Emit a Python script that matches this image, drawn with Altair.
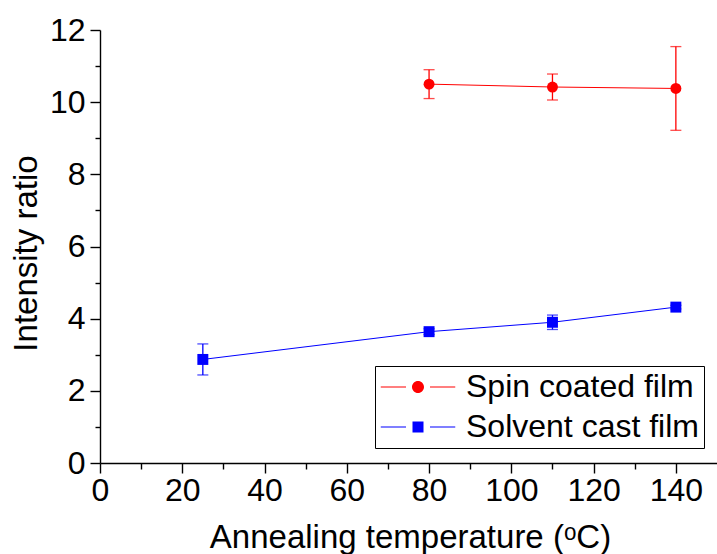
import altair as alt
import pandas as pd

# Intensity ratio vs annealing temperature, two film preparations
spin_temp = [80, 110, 140]
spin_ratio = [10.50, 10.42, 10.38]
spin_err = [0.40, 0.36, 1.16]

cast_temp = [25, 80, 110, 140]
cast_ratio = [2.87, 3.64, 3.90, 4.32]
cast_err = [0.43, 0.08, 0.20, 0.05]

series_names = ["Spin coated film", "Solvent cast film"]
series_colors = ["#ff0000", "#0000ff"]
series_shapes = ["circle", "square"]

x_major = [0, 20, 40, 60, 80, 100, 120, 140]
x_minor = [10, 30, 50, 70, 90, 110, 130]
y_major = [0, 2, 4, 6, 8, 10, 12]
y_minor = [1, 3, 5, 7, 9, 11]

rows = []
for name, temps, vals, errs in [
    (series_names[0], spin_temp, spin_ratio, spin_err),
    (series_names[1], cast_temp, cast_ratio, cast_err),
]:
    for t, v, e in zip(temps, vals, errs):
        rows.append({"series": name, "temp": t, "ratio": v, "lo": v - e, "hi": v + e})
df = pd.DataFrame(rows)

FONT = "Liberation Sans"

x_scale = alt.Scale(domain=[0, 150], nice=False, zero=False)
y_scale = alt.Scale(domain=[0, 12], nice=False, zero=False)
color_scale = alt.Scale(domain=series_names, range=series_colors)

common_axis = dict(
    grid=False, domainColor="black", tickColor="black", domainWidth=1.4,
    tickWidth=1.4, labelFont=FONT, labelFontSize=32, labelColor="black",
    titleFont=FONT, titleFontWeight="normal",
    titleColor="black", labelFlush=False, labelOverlap=False,
)

x_axis_major = alt.Axis(
    orient="bottom", values=x_major, tickSize=10, labelPadding=2,
    title="Annealing temperature (ᵒC)", titleFontSize=33, titleX=310, titleY=84,
    titleBaseline="alphabetic", titleAlign="center", **common_axis,
)
y_axis_major = alt.Axis(
    orient="left", values=y_major, tickSize=10, labelPadding=5,
    title="Intensity ratio", titleFontSize=33, titleX=-64, titleY=223, titleAngle=-90,
    titleBaseline="alphabetic", titleAlign="center", **common_axis,
)
x_axis_minor = alt.Axis(
    orient="bottom", values=x_minor, tickSize=6, labels=False, domain=False,
    title=None, grid=False, tickColor="black", tickWidth=1.4,
)
y_axis_minor = alt.Axis(
    orient="left", values=y_minor, tickSize=5, labels=False, domain=False,
    title=None, grid=False, tickColor="black", tickWidth=1.4,
)

# legend keys: thin line pieces on both sides of the marker (filled shapes)
circle_path = ("M-7.45,-0.1H-2.4V0.1H-7.45Z M2.4,-0.1H7.45V0.1H2.4Z "
               "M1.2,0A1.2,1.2,0,1,1,-1.2,0A1.2,1.2,0,1,1,1.2,0Z")
square_path = ("M-7.45,-0.1H-2.4V0.1H-7.45Z M2.4,-0.1H7.45V0.1H2.4Z "
               "M-1.1,-1.1H1.1V1.1H-1.1Z")
key_fill = "datum.value === 'Spin coated film' ? '#ff0000' : '#0000ff'"

legend = alt.Legend(
    orient="none", legendX=275, legendY=336, title=None, direction="vertical",
    labelFont=FONT, labelFontSize=32, labelColor="black", labelLimit=400,
    symbolSize=100, symbolOffset=22, labelOffset=32, symbolStrokeWidth=0,
    symbolOpacity=1, strokeColor="black", fillColor="white", padding=5,
    rowPadding=8,
)

base = alt.Chart(df)

lines = base.mark_line(strokeWidth=1).encode(
    x=alt.X("temp:Q", scale=x_scale, axis=x_axis_major),
    y=alt.Y("ratio:Q", scale=y_scale, axis=y_axis_major),
    color=alt.Color("series:N", scale=color_scale, legend=None),
)

bars = base.mark_rule(strokeWidth=1.3).encode(
    x=alt.X("temp:Q", scale=x_scale, axis=x_axis_minor),
    y=alt.Y("lo:Q", scale=y_scale, axis=y_axis_minor),
    y2="hi:Q",
    color=alt.Color("series:N", scale=color_scale, legend=None),
)

cap_lo = base.mark_tick(orient="horizontal", size=11, thickness=1.3).encode(
    x=alt.X("temp:Q", scale=x_scale, axis=None),
    y=alt.Y("lo:Q", scale=y_scale, axis=None),
    color=alt.Color("series:N", scale=color_scale, legend=None),
)

cap_hi = base.mark_tick(orient="horizontal", size=11, thickness=1.3).encode(
    x=alt.X("temp:Q", scale=x_scale, axis=None),
    y=alt.Y("hi:Q", scale=y_scale, axis=None),
    color=alt.Color("series:N", scale=color_scale, legend=None),
)

points = base.mark_point(filled=True, size=120, opacity=1).encode(
    x=alt.X("temp:Q", scale=x_scale, axis=None),
    y=alt.Y("ratio:Q", scale=y_scale, axis=None),
    color=alt.Color("series:N", scale=color_scale, legend=None),
    shape=alt.Shape("series:N", scale=alt.Scale(domain=series_names, range=series_shapes), legend=None),
)

# transparent layer that only carries the legend
key = base.mark_point(filled=True, size=100, fill=alt.ExprRef(key_fill)).encode(
    x=alt.X("temp:Q", scale=x_scale, axis=None),
    y=alt.Y("ratio:Q", scale=y_scale, axis=None),
    shape=alt.Shape("series:N", scale=alt.Scale(domain=series_names, range=[circle_path, square_path]), legend=legend),
    opacity=alt.value(0),
)

chart = (
    alt.layer(lines, bars, cap_lo, cap_hi, points, key)
    .resolve_axis(x="independent", y="independent")
    .resolve_scale(shape="independent")
    .properties(
        width=617, height=433, autosize="none",
        padding={"left": 100, "top": 30, "right": 0, "bottom": 91},
        background="white",
    )
    .configure_view(stroke=None)
)

chart.save("out.html", embed_options={"renderer": "svg", "actions": False})
